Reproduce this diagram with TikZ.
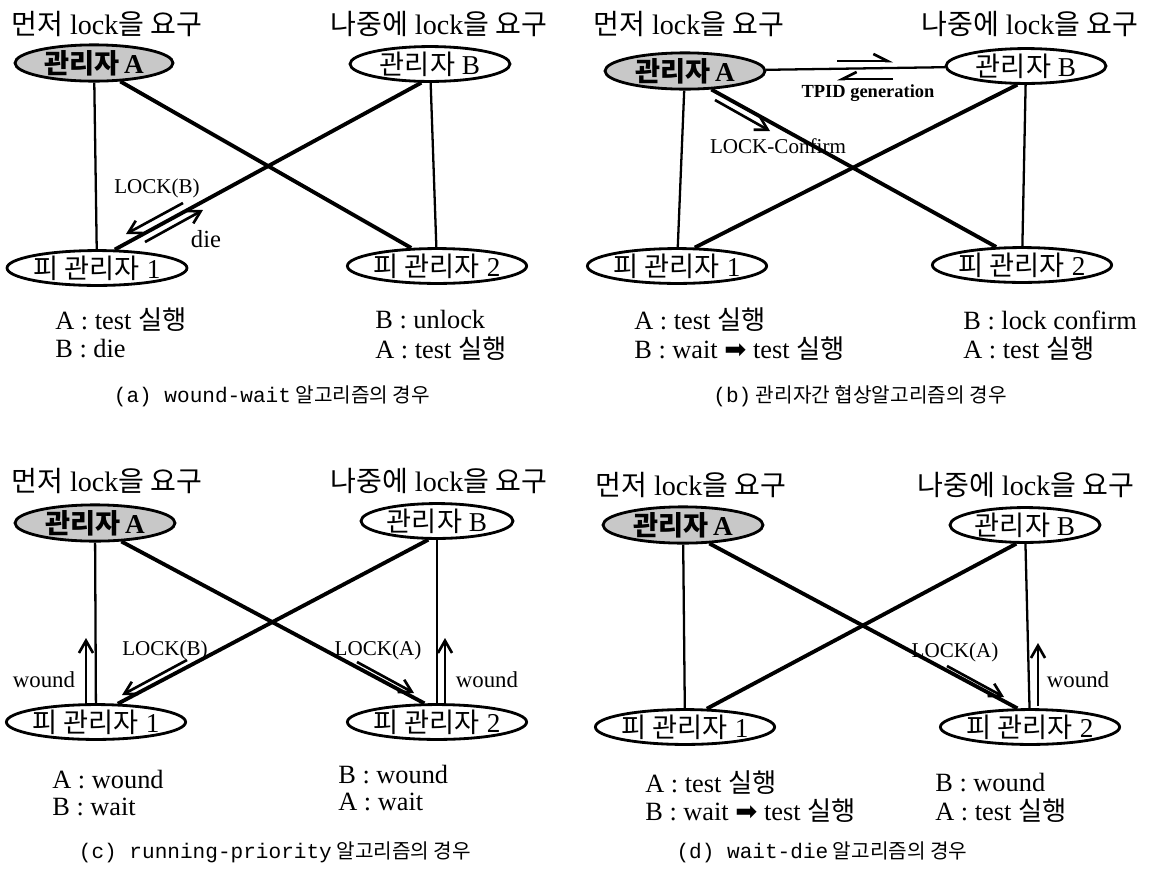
\documentclass[tikz,border=0pt]{standalone}
\usepackage{fontspec}
\setmainfont{Liberation Serif}
\newfontfamily\kr{Noto Sans CJK KR}
\newfontfamily\mono{Liberation Mono}
\newfontfamily\sym{DejaVu Sans}
\usetikzlibrary{arrows.meta, shapes.geometric}
\definecolor{colFond}{RGB}{200,200,200}
\newcommand{\capfig}{\mono\fontsize{12}{14}\selectfont}

\begin{document}
\begin{tikzpicture}[
  x=0.02cm, y=-0.02cm,
  >={Straight Barb[length=7pt, width=8pt]},
  head/.style={font=\fontsize{16}{19}\selectfont, inner sep=0pt, anchor=west},
  ell/.style={ellipse, draw, line width=1.6pt, inner sep=0pt,
              minimum height=0.66cm, font=\fontsize{15.5}{17}\selectfont},
  ellA/.style={ell, fill=colFond, font=\bfseries\fontsize{15.5}{17}\selectfont},
  vline/.style={line width=1.3pt},
  dline/.style={line width=2.2pt},
  msg/.style={->, line width=1.5pt},
  lab/.style={font=\fontsize{12}{14}\selectfont, inner sep=0pt},
  row/.style={font=\fontsize{15}{17}\selectfont, inner sep=0pt, anchor=west},
  captxt/.style={font=\kr\fontsize{11.5}{14}\selectfont, inner sep=0pt}
]
\useasboundingbox (0,0) rectangle (1157,873);

% ---------- (a) wound-wait ----------
\node[head] (ha1) at (11,24) {{\kr 먼저} lock{\kr 을 요구}};
\node[head] (ha2) at (330,24) {{\kr 나중에} lock{\kr 을 요구}};
\node[ellA, minimum width=3.16cm] (aA) at (94,63) {{\kr 관리자}\,A};
\node[ell, minimum width=3.2cm] (aB) at (430,64) {{\kr 관리자} B};
\node[ell, minimum width=3.6cm] (a1) at (97,268) {{\kr 피 관리자} 1};
\node[ell, minimum width=3.34cm] (a2) at (437,266) {{\kr 피 관리자} 2};
\draw[vline] (aA) -- (a1);
\draw[vline] (aB) -- (a2);
\draw[dline] (aA.-35) -- (a2.145);
\draw[dline] (aB.-115) -- (a1.46);
\coordinate (aL1) at (183,203);
\coordinate (aL2) at (126,234);
\coordinate (aD1) at (145,242);
\coordinate (aD2) at (203,210);
\draw[msg] (aL1) -- (aL2);
\draw[msg] (aD1) -- (aD2);
\node[lab] (aLk) at (157,188) {LOCK(B)};
\node[lab, font=\fontsize{14}{16}\selectfont] (aDie) at (206,239) {die};
\node[row] (ar1) at (55,320) {A : test {\kr 실행}};
\node[row] (ar2) at (55,349) {B : die};
\node[row] (ar3) at (375,320) {B : unlock};
\node[row] (ar4) at (375,349) {A : test {\kr 실행}};
\node[captxt] (acap) at (272,396) {{\capfig (a) wound-wait} 알고리즘의 경우};

% ---------- (b) negotiation ----------
\node[head] (hb1) at (593,24) {{\kr 먼저} lock{\kr 을 요구}};
\node[head] (hb2) at (921,24) {{\kr 나중에} lock{\kr 을 요구}};
\node[ellA, minimum width=3.2cm] (bA) at (685,71) {{\kr 관리자}\,A};
\node[ell, minimum width=3.2cm] (bB) at (1026,66) {{\kr 관리자} B};
\node[ell, minimum width=3.5cm] (b1) at (677,266) {{\kr 피 관리자} 1};
\node[ell, minimum width=3.3cm] (b2) at (1022,265) {{\kr 피 관리자} 2};
\draw[vline] (bA) -- (bB);
\draw[vline] (bA) -- (b1);
\draw[vline] (bB) -- (b2);
\draw[dline] (bA.-35) -- (b2.145);
\draw[dline] (bB.-115) -- (b1.46);
\coordinate (bT1) at (837,61);
\coordinate (bT2) at (893,61);
\coordinate (bT3) at (893,79);
\coordinate (bT4) at (837,79);
\draw[line width=1.5pt, -{Straight Barb[harpoon, length=8pt, width=8pt]}] (bT1) -- (bT2);
\draw[line width=1.5pt, -{Straight Barb[harpoon, swap, length=8pt, width=8pt]}] (bT3) -- (bT4);
\node[lab, font=\bfseries\fontsize{10.5}{12}\selectfont] (bTp) at (868,93) {TPID generation};
\coordinate (bC1) at (715,100);
\coordinate (bC2) at (770,131);
\draw[msg] (bC1) -- (bC2);
\node[lab] (bCf) at (778,146) {LOCK-Confirm};
\node[row] (br1) at (634,320) {A : test {\kr 실행}};
\node[row] (br2) at (634,349) {B : wait {\sym ➡} test {\kr 실행}};
\node[row] (br3) at (963,320) {B : lock confirm};
\node[row] (br4) at (963,349) {A : test {\kr 실행}};
\node[captxt] (bcap) at (860,396) {{\capfig (b)} 관리자간 협상알고리즘의 경우};

% ---------- (c) running-priority ----------
\node[head] (hc1) at (11,481) {{\kr 먼저} lock{\kr 을 요구}};
\node[head] (hc2) at (330,481) {{\kr 나중에} lock{\kr 을 요구}};
\node[ellA, minimum width=3.2cm] (cA) at (95,523) {{\kr 관리자}\,A};
\node[ell, minimum width=3.04cm] (cB) at (437,521) {{\kr 관리자} B};
\node[ell, minimum width=3.54cm] (c1) at (96,722) {{\kr 피 관리자} 1};
\node[ell, minimum width=3.34cm] (c2) at (437,722) {{\kr 피 관리자} 2};
\draw[vline] (cA) -- (c1);
\draw[vline] (cB) -- (c2);
\draw[dline] (cA.-35) -- (c2.124);
\draw[dline] (cB.-115) -- (c1.40);
\coordinate (cW1) at (86,706);
\coordinate (cW2) at (86,638);
\draw[msg] (cW1) -- (cW2);
\node[lab, font=\fontsize{13}{15}\selectfont] (cWl) at (44,680) {wound};
\coordinate (cL1) at (187,660);
\coordinate (cL2) at (122,695);
\draw[msg] (cL1) -- (cL2);
\node[lab] (cLb) at (165,650) {LOCK(B)};
\coordinate (cL3) at (357,662);
\coordinate (cL4) at (414,693);
\draw[msg] (cL3) -- (cL4);
\node[lab] (cLa) at (378,650) {LOCK(A)};
\coordinate (cW3) at (445,706);
\coordinate (cW4) at (445,638);
\draw[msg] (cW3) -- (cW4);
\node[lab, font=\fontsize{13}{15}\selectfont] (cWr) at (487,680) {wound};
\node[row] (cr1) at (52,780) {A : wound};
\node[row] (cr2) at (52,807) {B : wait};
\node[row] (cr3) at (338,775) {B : wound};
\node[row] (cr4) at (338,802) {A : wait};
\node[captxt] (ccap) at (275,852) {{\capfig (c) running-priority} 알고리즘의 경우};

% ---------- (d) wait-die ----------
\node[head] (hd1) at (595,485) {{\kr 먼저} lock{\kr 을 요구}};
\node[head] (hd2) at (917,485) {{\kr 나중에} lock{\kr 을 요구}};
\node[ellA, minimum width=3.2cm] (dA) at (683,525) {{\kr 관리자}\,A};
\node[ell, minimum width=3.0cm] (dB) at (1025,525) {{\kr 관리자} B};
\node[ell, minimum width=3.5cm] (d1) at (685,727) {{\kr 피 관리자} 1};
\node[ell, minimum width=3.3cm] (d2) at (1030,727) {{\kr 피 관리자} 2};
\draw[vline] (dA) -- (d1);
\draw[vline] (dB) -- (d2);
\draw[dline] (dA.-35) -- (d2.124);
\draw[dline] (dB.-115) -- (d1.40);
\coordinate (dL1) at (947,666);
\coordinate (dL2) at (1004,697);
\draw[msg] (dL1) -- (dL2);
\node[lab] (dLa) at (955,652) {LOCK(A)};
\coordinate (dW1) at (1038,706);
\coordinate (dW2) at (1038,643);
\draw[msg] (dW1) -- (dW2);
\node[lab, font=\fontsize{13}{15}\selectfont] (dWl) at (1078,680) {wound};
\node[row] (dr1) at (645,783) {A : test {\kr 실행}};
\node[row] (dr2) at (645,811) {B : wait {\sym ➡} test {\kr 실행}};
\node[row] (dr3) at (935,783) {B : wound};
\node[row] (dr4) at (935,811) {A : test {\kr 실행}};
\node[captxt] (dcap) at (822,852) {{\capfig (d) wait-die} 알고리즘의 경우};

\end{tikzpicture}
\end{document}
